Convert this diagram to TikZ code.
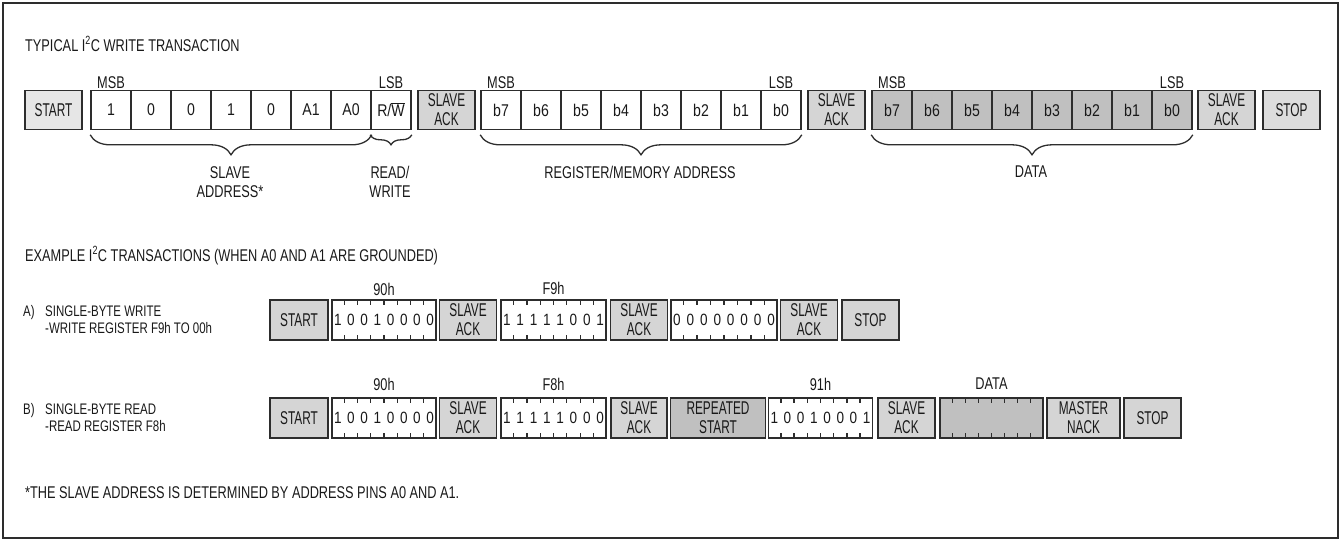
\documentclass[tikz,border=0pt]{standalone}
\usepackage{fontspec}
\setmainfont{Liberation Sans}
\newfontfamily\lblf{Liberation Sans}[FakeStretch=0.75]
\newfontfamily\boxf{Liberation Sans}[FakeStretch=0.64]
\newfontfamily\cellf{Liberation Sans}[FakeStretch=0.83]
\usetikzlibrary{decorations.pathreplacing,calc}
\definecolor{ln}{RGB}{45,45,45}
\definecolor{fstart}{RGB}{230,230,230}
\definecolor{fack}{RGB}{213,213,213}
\definecolor{fdata}{RGB}{192,192,192}
\newcommand\mybitticks[1]{%
  \foreach \k in {1,...,7}{%
    \draw[bittick] ($(#1.north west)!{\k/8}!(#1.north east)$) -- ++(0,6);
    \draw[bittick] ($(#1.south west)!{\k/8}!(#1.south east)$) -- ++(0,-6);
  }}
\newcommand\mybitdigits[2]{%
  \foreach \d [count=\k] in {#2}
    \node[digit] (#1d\k) at ($(#1.west)!{(2*\k-1)/16}!(#1.east)$) {\d};}
\tikzset{
  lbl/.style={font=\lblf\fontsize{17}{19}\selectfont, inner sep=0pt, text=black!90},
  lbl1/.style={lbl, text height=12.2pt, text depth=0pt},
  desc/.style={font=\lblf\fontsize{15.3}{17}\selectfont, inner sep=0pt, anchor=west, text=black!90,
    text height=11pt, text depth=0pt},
  boxn/.style={draw=ln, line width=1.6pt, inner sep=0pt, align=center,
    font=\boxf\fontsize{18.5}{19}\selectfont, text=black!90},
  cell/.style={draw=ln, line width=1.6pt, inner sep=0pt, minimum width=40pt, minimum height=39pt,
    font=\cellf\fontsize{17}{18}\selectfont, text=black!90},
  bitbox/.style={draw=ln, line width=1.6pt, inner sep=0pt, minimum height=40pt, fill=white},
  bittick/.style={draw=ln, line width=1.3pt},
  digit/.style={font=\cellf\fontsize{16.3}{17}\selectfont, inner sep=0pt, text=black!90},
  bigbrace/.style={draw=ln, line width=1.3pt, decorate, decoration={brace, mirror, amplitude=20pt}},
  smallbrace/.style={draw=ln, line width=1.3pt, decorate, decoration={brace, mirror, amplitude=10pt}},
}
\begin{document}
\begin{tikzpicture}[x=1pt,y=-1pt]
\useasboundingbox (0,0) rectangle (1341,541);
\draw[ln, line width=2pt] (3,3) rectangle (1338,538);

% ---------- typical write transaction ----------
\node[lbl1, anchor=west] (title1) at (25,45) {TYPICAL I\textsuperscript{2}C WRITE TRANSACTION};

\node[boxn, fill=fstart, minimum width=57pt, minimum height=39pt] (ts) at (53.5,110) {START};
\foreach \t [count=\k] in {1,0,0,1,0,A1,A0,{R/$\overline{\mbox{W}}$}}
  \node[cell] (a\k) at ({71+40*\k},110) {\t};
\node[boxn, fill=fack, minimum width=57pt, minimum height=39pt] (ak1) at (446.5,110) {SLAVE\\ACK};
\foreach \t [count=\k] in {b7,b6,b5,b4,b3,b2,b1,b0}
  \node[cell] (r\k) at ({461+40*\k},110) {\t};
\node[boxn, fill=fack, minimum width=57pt, minimum height=39pt] (ak2) at (836.5,110) {SLAVE\\ACK};
\foreach \t [count=\k] in {b7,b6,b5,b4,b3,b2,b1,b0}
  \node[cell, fill=fdata] (d\k) at ({852+40*\k},110) {\t};
\node[boxn, fill=fack, minimum width=57pt, minimum height=39pt] (ak3) at (1226.5,110) {SLAVE\\ACK};
\node[boxn, fill=fack!80!white, minimum width=57pt, minimum height=39pt] (tstop) at (1291.5,110) {STOP};

\node[lbl] (msb1) at (a1.center |- 0,83) {MSB};
\node[lbl] (lsb1) at (a8.center |- 0,83) {LSB};
\node[lbl] (msb2) at (r1.center |- 0,83) {MSB};
\node[lbl] (lsb2) at (r8.center |- 0,83) {LSB};
\node[lbl] (msb3) at (d1.center |- 0,83) {MSB};
\node[lbl] (lsb3) at (d8.center |- 0,83) {LSB};

\draw[bigbrace] ([yshift=-4.5pt]a1.south west) -- ([yshift=-4.5pt]a7.south east);
\draw[smallbrace] ([yshift=-4.5pt]a8.south west) -- ([yshift=-4.5pt]a8.south east);
\draw[bigbrace] ([yshift=-4.5pt]r1.south west) -- ([yshift=-4.5pt]r8.south east);
\draw[bigbrace] ([yshift=-4.5pt]d1.south west) -- ([yshift=-4.5pt]d8.south east);

\node[lbl, align=center] (saddr) at (230,182) {SLAVE\\ADDRESS*};
\node[lbl, align=center] (rw) at (390,182) {READ/\\WRITE};
\node[lbl1] (raddr) at (640,172) {REGISTER/MEMORY ADDRESS};
\node[lbl] (dlbl) at (1031,172) {DATA};

% ---------- examples ----------
\node[lbl1, anchor=west] (title2) at (25,255) {EXAMPLE I\textsuperscript{2}C TRANSACTIONS (WHEN A0 AND A1 ARE GROUNDED)};

\node[desc] (aa) at (23,311) {A)};
\node[desc] (aa1) at (45,311) {SINGLE-BYTE WRITE};
\node[desc] (aa2) at (45,328) {-WRITE REGISTER F9h TO 00h};

\node[boxn, fill=fack, minimum width=58pt, minimum height=40pt] (as) at (299,320) {START};
\node[bitbox, minimum width=104pt] (ab1) at (384,320) {};
\node[boxn, fill=fack, minimum width=57pt, minimum height=40pt] (aak1) at (468,320) {SLAVE\\ACK};
\node[bitbox, minimum width=105pt] (ab2) at (553.5,320) {};
\node[boxn, fill=fack, minimum width=57pt, minimum height=40pt] (aak2) at (639,320) {SLAVE\\ACK};
\node[bitbox, minimum width=106pt] (ab3) at (724,320) {};
\node[boxn, fill=fack, minimum width=57pt, minimum height=40pt] (aak3) at (809,320) {SLAVE\\ACK};
\node[boxn, fill=fack, minimum width=57pt, minimum height=40pt] (astop) at (870.5,320) {STOP};
\mybitticks{ab1}\mybitdigits{ab1}{1,0,0,1,0,0,0,0}
\mybitticks{ab2}\mybitdigits{ab2}{1,1,1,1,1,0,0,1}
\mybitticks{ab3}\mybitdigits{ab3}{0,0,0,0,0,0,0,0}
\node[lbl] (al1) at (ab1.center |- 0,289) {90h};
\node[lbl] (al2) at (ab2.center |- 0,288) {F9h};

\node[desc] (bb) at (23,409) {B)};
\node[desc] (bb1) at (45,409) {SINGLE-BYTE READ};
\node[desc] (bb2) at (45,426) {-READ REGISTER F8h};

\node[boxn, fill=fack, minimum width=58pt, minimum height=40pt] (bs) at (299,418) {START};
\node[bitbox, minimum width=104pt] (bb1x) at (384,418) {};
\node[boxn, fill=fack, minimum width=57pt, minimum height=40pt] (bak1) at (468,418) {SLAVE\\ACK};
\node[bitbox, minimum width=105pt] (bb2x) at (553.5,418) {};
\node[boxn, fill=fack, minimum width=56pt, minimum height=40pt] (bak2) at (639,418) {SLAVE\\ACK};
\node[boxn, fill=fdata, minimum width=95pt, minimum height=40pt] (brs) at (718,418) {REPEATED\\START};
\node[bitbox, minimum width=104pt] (bb3x) at (820.5,418) {};
\node[boxn, fill=fack, minimum width=57pt, minimum height=40pt] (bak3) at (906.5,418) {SLAVE\\ACK};
\node[bitbox, fill=fdata, minimum width=103pt] (bdat) at (991.5,418) {};
\node[boxn, fill=fack, minimum width=73pt, minimum height=40pt] (bnack) at (1083.5,418) {MASTER\\NACK};
\node[boxn, fill=fack, minimum width=57pt, minimum height=40pt] (bstop) at (1152.5,418) {STOP};
\mybitticks{bb1x}\mybitdigits{bb1x}{1,0,0,1,0,0,0,0}
\mybitticks{bb2x}\mybitdigits{bb2x}{1,1,1,1,1,0,0,0}
\mybitticks{bb3x}\mybitdigits{bb3x}{1,0,0,1,0,0,0,1}
\mybitticks{bdat}
\node[lbl] (bl1) at (bb1x.center |- 0,384) {90h};
\node[lbl] (bl2) at (bb2x.center |- 0,384) {F8h};
\node[lbl] (bl3) at (bb3x.center |- 0,384) {91h};
\node[lbl] (bl4) at (bdat.center |- 0,384) {DATA};

\node[lbl1, anchor=west] (foot) at (25,492) {*THE SLAVE ADDRESS IS DETERMINED BY ADDRESS PINS A0 AND A1.};
\end{tikzpicture}
\end{document}
